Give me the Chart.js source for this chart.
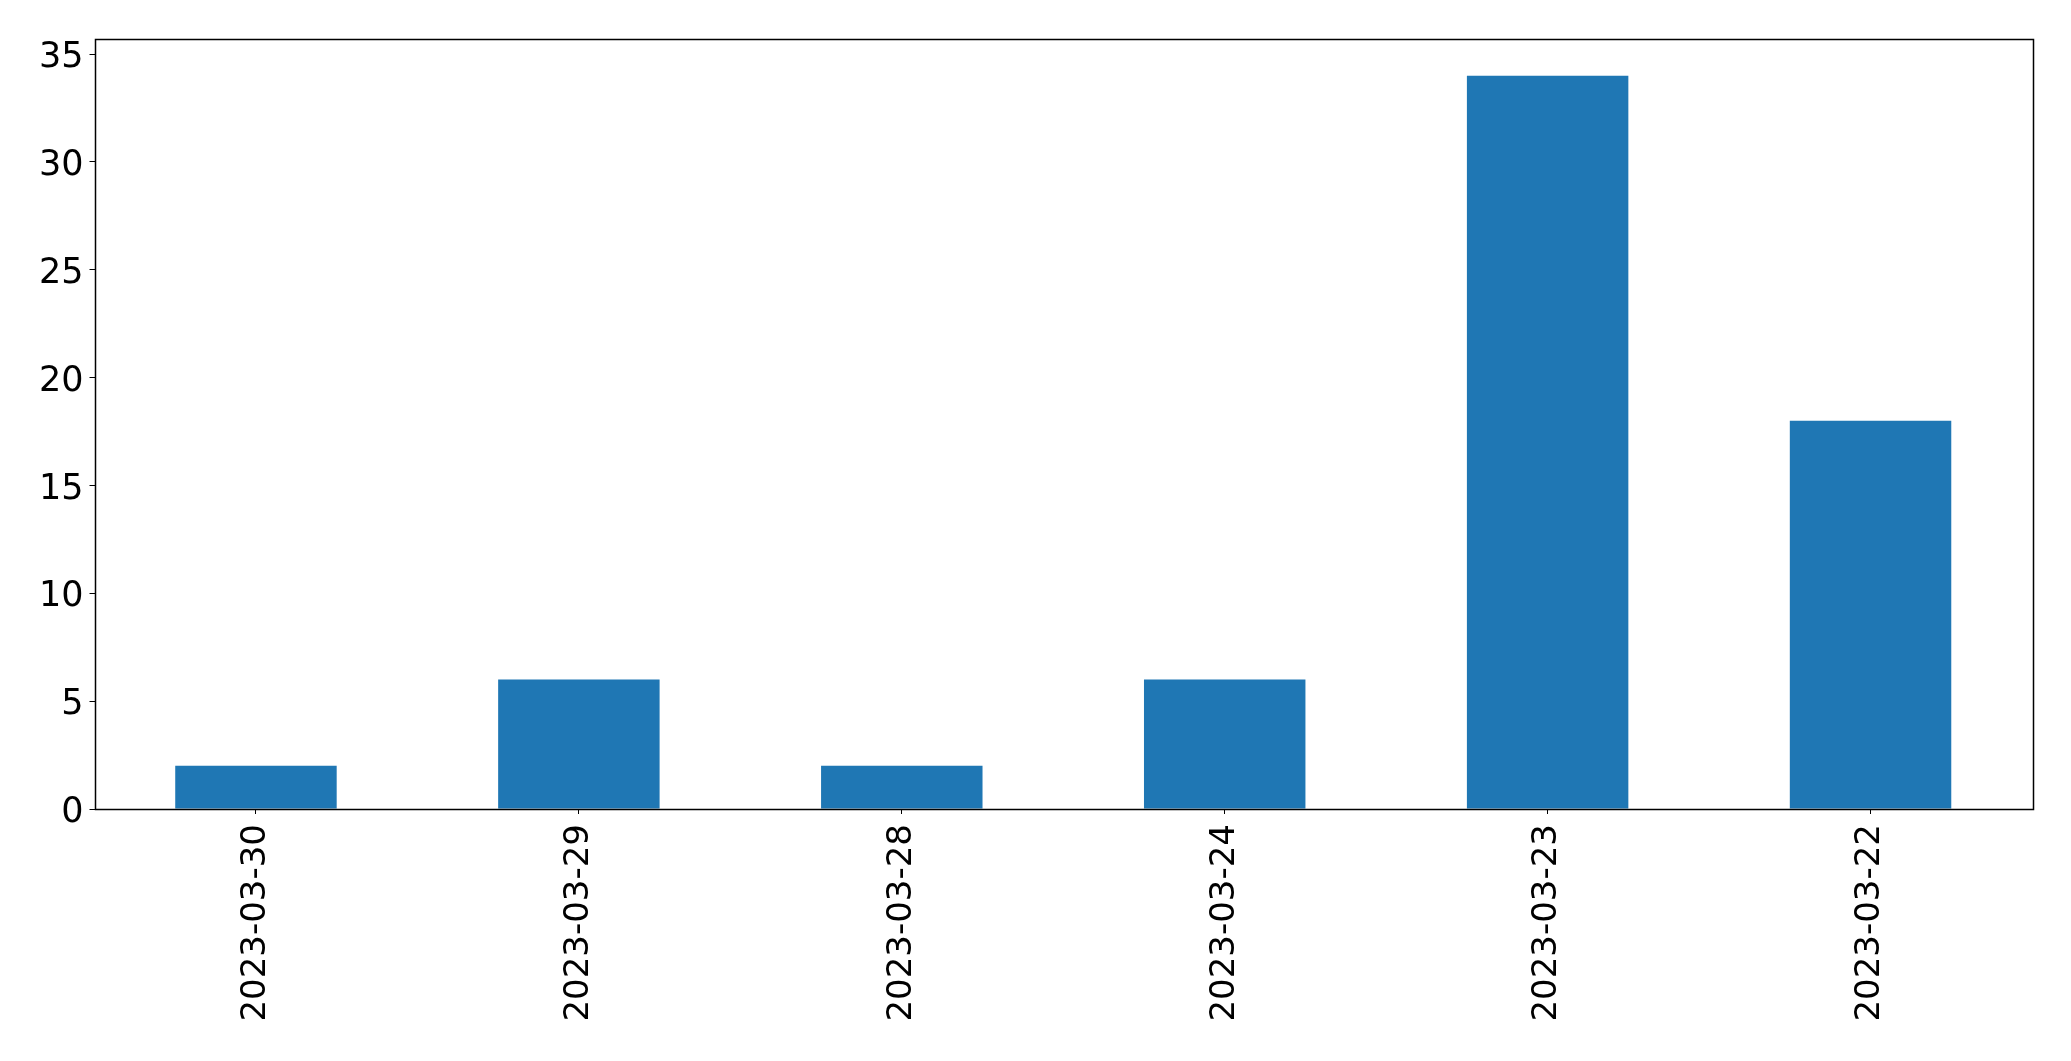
<!DOCTYPE html>
<html>
<head>
<meta charset="utf-8">
<script src="https://cdn.jsdelivr.net/npm/chart.js@4"></script>
<style>
  body { margin: 0; background: #fff; }
  #wrap { width: 2071px; height: 1061px; }
</style>
</head>
<body>
<div id="wrap"><canvas id="chartCanvas" width="2071" height="1061"></canvas></div>
<script>
const dates = ["2023-03-30", "2023-03-29", "2023-03-28", "2023-03-24", "2023-03-23", "2023-03-22"];
const counts = [2, 6, 2, 6, 34, 18];
const yTicks = [0, 5, 10, 15, 20, 25, 30, 35];

// frame around plot area, like matplotlib spines
const framePlugin = {
  id: "frame",
  afterDraw(chart) {
    const a = chart.chartArea;
    const ctx = chart.ctx;
    ctx.save();
    ctx.strokeStyle = "#000";
    ctx.lineWidth = 1.5;
    ctx.strokeRect(Math.round(a.left) + 0.5, Math.round(a.top) + 0.5,
      Math.round(a.right - a.left), Math.round(a.bottom - a.top));
    ctx.restore();
  }
};

const ctx = document.getElementById("chartCanvas").getContext("2d");
new Chart(ctx, {
  type: "bar",
  data: {
    labels: dates,
    datasets: [{
      data: counts,
      backgroundColor: "#1f77b4",
      barPercentage: 0.5,
      categoryPercentage: 1.0
    }]
  },
  options: {
    responsive: false,
    devicePixelRatio: 1,
    animation: false,
    layout: { padding: { top: 39, right: 39, left: 0, bottom: 0 } },
    plugins: { legend: { display: false }, tooltip: { enabled: false } },
    scales: {
      x: {
        grid: { display: true, drawOnChartArea: false, drawTicks: true, tickLength: 5, color: "#000", offset: false },
        border: { display: false },
        ticks: { color: "#000", font: { family: "DejaVu Sans", size: 34 }, maxRotation: 90, minRotation: 90, padding: 10, autoSkip: false },
        afterFit(scale) { scale.height = 1061 - 809; }
      },
      y: {
        min: 0,
        max: 35.7,
        grid: { display: true, drawOnChartArea: false, drawTicks: true, tickLength: 5, color: "#000" },
        border: { display: false },
        afterBuildTicks(scale) { scale.ticks = yTicks.map(v => ({ value: v })); },
        ticks: { color: "#000", font: { family: "DejaVu Sans", size: 35 }, padding: 6, labelOffset: 4, includeBounds: false },
        afterFit(scale) { scale.width = 94.5; }
      }
    }
  },
  plugins: [framePlugin]
});
</script>
</body>
</html>
